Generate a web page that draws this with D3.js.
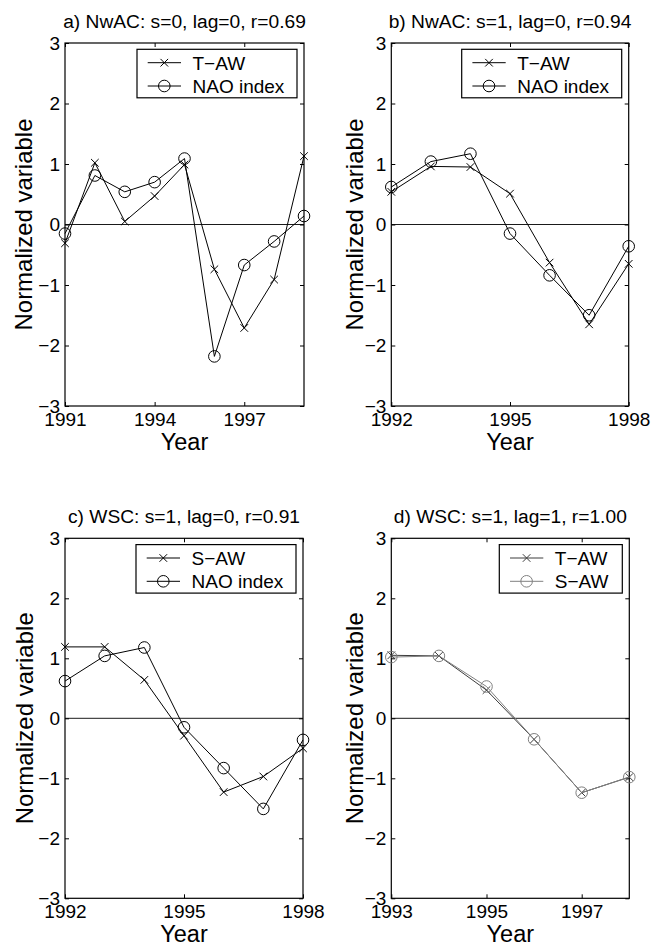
<!DOCTYPE html>
<html>
<head>
<meta charset="utf-8">
<script src="https://cdn.jsdelivr.net/npm/d3@7"></script>
<style>
  html, body { margin: 0; padding: 0; background: #fff; }
  svg { display: block; }
  text { font-family: "Liberation Sans", Arial, Helvetica, sans-serif; fill: #000; }
</style>
</head>
<body>
<svg id="chart" width="664" height="947"></svg>
<script>
// ---------------- data ----------------
const yearsA = [1991, 1992, 1993, 1994, 1995, 1996, 1997, 1998, 1999];
const tawA   = [-0.31, 1.02, 0.05, 0.47, 0.99, -0.74, -1.71, -0.91, 1.13];
const naoA   = [-0.15, 0.81, 0.54, 0.70, 1.09, -2.18, -0.67, -0.28, 0.14];

const yearsB = [1992, 1993, 1994, 1995, 1996, 1997, 1998];
const tawB   = [0.54, 0.96, 0.95, 0.51, -0.63, -1.65, -0.65];
const naoB   = [0.62, 1.04, 1.17, -0.15, -0.84, -1.50, -0.36];

const yearsC = [1992, 1993, 1994, 1995, 1996, 1997, 1998];
const sawC   = [1.19, 1.19, 0.64, -0.29, -1.23, -0.97, -0.50];
const naoC   = [0.62, 1.04, 1.18, -0.15, -0.83, -1.51, -0.36];

const yearsD = [1993, 1994, 1995, 1996, 1997, 1998];
const tawD   = [1.05, 1.04, 0.47, -0.35, -1.24, -0.98];
const sawD   = [1.02, 1.04, 0.53, -0.35, -1.24, -0.98];

const xTicksA = [1991, 1994, 1997];
const xTicksB = [1992, 1995, 1998];
const xTicksC = [1992, 1995, 1998];
const xTicksD = [1993, 1995, 1997];
const yTicks  = [-3, -2, -1, 0, 1, 2, 3];

const titles = [
  "a) NwAC: s=0, lag=0, r=0.69",
  "b) NwAC: s=1, lag=0, r=0.94",
  "c) WSC: s=1, lag=0, r=0.91",
  "d) WSC: s=1, lag=1, r=1.00"
];
const xLabel = "Year";
const yLabel = "Normalized variable";

// ---------------- layout ----------------
const panels = [
  { title: titles[0], years: yearsA, xTicks: xTicksA, left: 65, right: 304, top: 43, bottom: 406, ylabOff: 41, legW: 160,
    series: [{ name: "T\u2212AW", values: tawA, marker: "x", color: "#000" },
             { name: "NAO index", values: naoA, marker: "o", color: "#000" }] },
  { title: titles[1], years: yearsB, xTicks: xTicksB, left: 391.3, right: 628.7, top: 43, bottom: 406, ylabOff: 37, legW: 160,
    series: [{ name: "T\u2212AW", values: tawB, marker: "x", color: "#000" },
             { name: "NAO index", values: naoB, marker: "o", color: "#000" }] },
  { title: titles[2], years: yearsC, xTicks: xTicksC, left: 65, right: 303, top: 538.3, bottom: 898.3, ylabOff: 40, legW: 160,
    series: [{ name: "S\u2212AW", values: sawC, marker: "x", color: "#000" },
             { name: "NAO index", values: naoC, marker: "o", color: "#000" }] },
  { title: titles[3], years: yearsD, xTicks: xTicksD, left: 391.3, right: 629.3, top: 538.3, bottom: 898.3, ylabOff: 37, legW: 123,
    series: [{ name: "T\u2212AW", values: tawD, marker: "x", color: "#3c3c3c" },
             { name: "S\u2212AW", values: sawD, marker: "o", color: "#808080" }] }
];

const svg = d3.select("#chart");
const fmt = d => (d < 0 ? "\u2212" + Math.abs(d) : String(d));

function drawMarker(g, type, x, y, color) {
  if (type === "x") {
    const s = 3.8;
    g.append("path")
      .attr("d", `M${x - s},${y - s}L${x + s},${y + s}M${x - s},${y + s}L${x + s},${y - s}`)
      .attr("stroke", color).attr("stroke-width", 1).attr("fill", "none");
  } else {
    g.append("circle").attr("cx", x).attr("cy", y).attr("r", 5.8)
      .attr("stroke", color).attr("stroke-width", 1).attr("fill", "none");
  }
}

panels.forEach(p => {
  const g = svg.append("g");
  const x = d3.scaleLinear().domain(d3.extent(p.years)).range([p.left, p.right]);
  const y = d3.scaleLinear().domain([-3, 3]).range([p.bottom, p.top]);
  const tl = 4;

  const bx = g.append("g").attr("transform", `translate(0,${p.bottom})`)
    .call(d3.axisBottom(x).tickValues(p.xTicks).tickSize(-tl).tickFormat(d3.format("d")).tickPadding(6.5));
  const tx = g.append("g").attr("transform", `translate(0,${p.top})`)
    .call(d3.axisTop(x).tickValues(p.xTicks).tickSize(-tl).tickFormat(""));
  const ly = g.append("g").attr("transform", `translate(${p.left},0)`)
    .call(d3.axisLeft(y).tickValues(yTicks).tickSize(-tl).tickFormat(fmt).tickPadding(5));
  const ry = g.append("g").attr("transform", `translate(${p.right},0)`)
    .call(d3.axisRight(y).tickValues(yTicks).tickSize(-tl).tickFormat(""));

  [bx, tx, ly, ry].forEach(a => {
    a.select(".domain").remove();
    a.selectAll("line").attr("stroke", "#000").attr("stroke-width", 1);
    a.selectAll("text").attr("font-size", 19).style("font-family", "'Liberation Sans', Arial, sans-serif").attr("fill", "#000");
  });
  bx.selectAll("text").attr("dy", "0.71em");
  ly.selectAll("text").attr("dy", "0.34em");

  g.append("rect").attr("x", p.left).attr("y", p.top)
    .attr("width", p.right - p.left).attr("height", p.bottom - p.top)
    .attr("fill", "none").attr("stroke", "#000").attr("stroke-width", 1.2);

  g.append("line").attr("x1", p.left).attr("x2", p.right)
    .attr("y1", y(0)).attr("y2", y(0)).attr("stroke", "#000").attr("stroke-width", 0.9);

  p.series.forEach(s => {
    const line = d3.line().x((d, i) => x(p.years[i])).y(d => y(d));
    g.append("path").datum(s.values).attr("d", line)
      .attr("fill", "none").attr("stroke", s.color).attr("stroke-width", 1);
    s.values.forEach((v, i) => drawMarker(g, s.marker, x(p.years[i]), y(v), s.color));
  });

  g.append("text").attr("x", (p.left + p.right) / 2).attr("y", p.top - 15)
    .attr("text-anchor", "middle").attr("font-size", 19.2).text(p.title);

  g.append("text").attr("x", (p.left + p.right) / 2).attr("y", p.bottom + 44)
    .attr("text-anchor", "middle").attr("font-size", 23.5).text(xLabel);

  g.append("text")
    .attr("transform", `translate(${p.left - p.ylabOff},${(p.top + p.bottom) / 2}) rotate(-90)`)
    .attr("text-anchor", "middle").attr("dy", "0.35em").attr("font-size", 24).text(yLabel);

  const lw = p.legW, lh = 48.5;
  const lx = p.right - 7 - lw, lyTop = p.top + 6.3;
  const lg = g.append("g");
  lg.append("rect").attr("x", lx).attr("y", lyTop).attr("width", lw).attr("height", lh)
    .attr("fill", "#fff").attr("stroke", "#000").attr("stroke-width", 1.2);
  p.series.forEach((s, i) => {
    const ry0 = lyTop + 13.4 + i * 23.3;
    lg.append("line").attr("x1", lx + 10.7).attr("x2", lx + 44).attr("y1", ry0).attr("y2", ry0)
      .attr("stroke", s.color).attr("stroke-width", 1);
    drawMarker(lg, s.marker, lx + 27.3, ry0, s.color);
    lg.append("text").attr("x", lx + 55.5).attr("y", ry0).attr("dy", "0.36em")
      .attr("font-size", 19).text(s.name);
  });
});
</script>
</body>
</html>
